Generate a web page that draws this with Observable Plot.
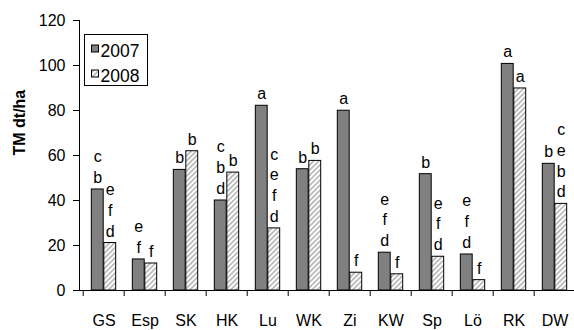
<!DOCTYPE html>
<html>
<head>
<meta charset="utf-8">
<script src="https://cdn.jsdelivr.net/npm/d3@7"></script>
<script src="https://cdn.jsdelivr.net/npm/@observablehq/plot@0.6"></script>
<style>
  html, body { margin: 0; padding: 0; background: #fff; overflow: hidden; }
</style>
</head>
<body>
<div id="chart"></div>
<script>
// Sites (x categories)
const categories = ["GS", "Esp", "SK", "HK", "Lu", "WK", "Zi", "KW", "Sp", "Lö", "RK", "DW"];
// Series names
const seriesNames = ["2007", "2008"];
// Dry matter yield, TM dt/ha
const tm2007 = [44.9, 13.8, 53.6, 40.0, 82.1, 53.9, 79.9, 16.8, 51.7, 16.0, 100.7, 56.3];
const tm2008 = [21.1, 12.0, 61.9, 52.4, 27.6, 57.6, 7.9, 7.2, 15.0, 4.6, 89.8, 38.5];
// Significance letters above each bar
const letters2007 = ["c\nb", "e\nf", "b", "c\nb\nd", "a", "b", "a", "e\nf\nd", "b", "e\nf\nd", "a", "b"];
const letters2008 = ["e\nf\nd", "f", "b", "b", "c\ne\nf\nd", "b", "f", "f", "e\nf\nd", "f", "a", "c\ne\nb\nd"];
// Y axis ticks
const yTicks = [0, 20, 40, 60, 80, 100, 120];
const yLabel = "TM dt/ha";

const rows2007 = categories.map((c, i) => ({cat: c, value: tm2007[i], label: letters2007[i]}));
const rows2008 = categories.map((c, i) => ({cat: c, value: tm2008[i], label: letters2008[i]}));

const W = 580, H = 330, mL = 79, mR = 1.5, mT = 20, mB = 40;
const step = (W - mL - mR) / categories.length;
const barW = 12.5;
const gap = (step - 2 * barW) / 2;
const shift = step / 2 - gap - barW / 2;
const font = "'Liberation Sans', Arial, sans-serif";

const chart = Plot.plot({
  width: W,
  height: H,
  marginLeft: mL,
  marginRight: mR,
  marginTop: mT,
  marginBottom: mB,
  style: {fontFamily: font, fontSize: "16px", color: "#000", background: "#fff", maxWidth: "none"},
  x: {type: "band", domain: categories, padding: 0},
  y: {domain: [0, 120]},
  marks: [
    Plot.barY(rows2007, {x: "cat", y: "value", fill: "#808080", stroke: "#000", strokeWidth: 1,
      insetLeft: gap, insetRight: step - gap - barW}),
    Plot.barY(rows2008, {x: "cat", y: "value", fill: "url(#hatch2008)", stroke: "#000", strokeWidth: 1,
      insetLeft: gap + barW, insetRight: gap}),
    Plot.ruleY([0], {stroke: "#000"}),
    Plot.frame({anchor: "left", stroke: "#000"}),
    Plot.axisY({ticks: yTicks, tickSize: 6, tickPadding: 8, label: null}),
    Plot.axisX({tickSize: 6, dx: -step / 2, tickFormat: () => "", label: null}),
    Plot.axisX({tickSize: 0, tickPadding: 24, label: null}),
    Plot.text(rows2007, {x: "cat", y: "value", text: "label", dx: -shift, dy: -6.5,
      lineAnchor: "bottom", lineHeight: 1.3, fill: "#000"}),
    Plot.text(rows2008, {x: "cat", y: "value", text: "label", dx: shift, dy: -6.5,
      lineAnchor: "bottom", lineHeight: 1.3, fill: "#000"}),
    Plot.text([yLabel], {text: d => d, frameAnchor: "left", rotate: -90, dx: -60,
      fontWeight: "bold", fill: "#000"})
  ]
});

document.getElementById("chart").appendChild(chart);

// Diagonal hatch used for the 2008 bars
const svg = d3.select(chart);
const defs = svg.insert("defs", ":first-child");
const pat = defs.append("pattern")
  .attr("id", "hatch2008")
  .attr("patternUnits", "userSpaceOnUse")
  .attr("width", 3.6).attr("height", 3.6)
  .attr("patternTransform", "rotate(45)");
pat.append("rect").attr("width", 3.6).attr("height", 3.6).attr("fill", "#fff");
pat.append("rect").attr("width", 1.6).attr("height", 3.6).attr("fill", "#b4b4b4");

// Legend box inside the plot area
const fills = ["#808080", "url(#hatch2008)"];
const lg = svg.append("g")
  .attr("font-family", font)
  .attr("font-size", 17.5)
  .attr("text-anchor", "start");
lg.append("rect").attr("x", 84.5).attr("y", 34.5).attr("width", 63).attr("height", 51)
  .attr("fill", "#fff").attr("stroke", "#000");
seriesNames.forEach((name, i) => {
  const cy = 48.5 + i * 25;
  lg.append("rect").attr("x", 91.5).attr("y", cy - 3.5).attr("width", 7).attr("height", 7)
    .attr("fill", fills[i]).attr("stroke", "#000");
  lg.append("text").attr("x", 100.5).attr("y", cy + 8).attr("fill", "#000").text(name);
});
</script>
</body>
</html>
